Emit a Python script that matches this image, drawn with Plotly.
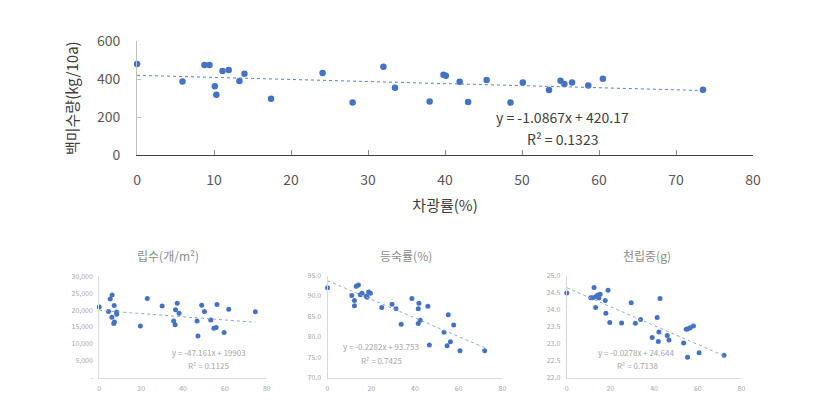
import plotly.graph_objects as go

# ---------------- data ----------------
# main chart: shading rate (%) vs milled rice yield (kg/10a)
shade_main = [0, 5.9, 8.75, 9.4, 10.1, 10.3, 11.1, 11.9, 13.3, 13.95, 17.4, 24.1, 28.0, 32.0, 33.5,
              38.0, 39.8, 40.1, 41.9, 43.0, 45.4, 48.5, 50.1, 53.5, 55.0, 55.5, 56.5, 58.6, 60.5, 73.5]
yield_main = [480, 388, 475, 475, 363, 318, 443, 448, 390, 428, 297, 432, 277, 465, 355,
              282, 423, 418, 387, 280, 395, 277, 382, 343, 392, 375, 382, 367, 402, 345]
main_slope, main_icpt = -1.0867, 420.17
main_eq = "y = -1.0867x + 420.17"
main_r2 = "R² = 0.1323"

# sub 1: grains per m2
shade_s1 = [0, 4.4, 5.2, 6.1, 7.1, 6.0, 8.3, 8.3, 6.9, 7.2, 19.6, 22.9, 30.0, 35.5, 36.2, 36.4, 37.2,
            38.1, 46.7, 47.1, 48.9, 50.2, 53.2, 54.7, 55.8, 56.2, 59.6, 61.8, 74.5]
grains_s1 = [20900, 19590, 23240, 24460, 21370, 17900, 19400, 18740, 16030, 16500, 15280, 23430, 21180,
             16780, 15650, 20060, 22030, 19030, 16780, 12370, 21460, 19590, 17060, 14620, 14810, 21650,
             13400, 20240, 19490]
s1_slope, s1_icpt = -47.161, 19903
s1_eq = "y = -47.161x + 19903"
s1_r2 = "R² = 0.1125"

# sub 2: ripening ratio (%)
shade_s2 = [0, 11.1, 12.3, 12.3, 13.1, 14.1, 15.0, 15.8, 17.7, 18.1, 18.8, 19.6, 24.8, 29.5, 31.3, 33.7,
            38.6, 41.8, 41.5, 42.4, 41.5, 45.9, 46.6, 55.2, 53.3, 56.2, 54.7, 57.7, 60.6, 71.9]
ripen_s2 = [92.0, 90.1, 88.9, 87.6, 92.4, 92.7, 90.3, 90.65, 89.95, 89.7, 91.0, 90.7, 87.2, 88.0, 86.9, 83.1,
            89.4, 88.2, 86.9, 84.05, 83.3, 87.5, 78.0, 85.4, 81.1, 78.8, 77.8, 82.9, 76.6, 76.6]
s2_slope, s2_icpt = -0.2282, 93.753
s2_eq = "y = -0.2282x + 93.753"
s2_r2 = "R² = 0.7425"

# sub 3: 1000-grain weight (g)
shade_s3 = [0, 11.0, 11.9, 12.5, 13.2, 13.2, 14.1, 14.7, 15.3, 17.6, 17.9, 18.9, 19.7, 25.1, 29.5, 31.4,
            33.8, 39.1, 41.4, 42.7, 41.9, 42.2, 46.0, 46.8, 53.5, 54.7, 55.6, 56.5, 58.0, 55.3, 60.6, 72.0]
tgw_s3 = [24.49, 24.35, 24.35, 24.65, 24.38, 24.06, 24.42, 24.34, 24.45, 24.27, 23.89, 24.57, 23.62, 23.61,
          24.20, 23.60, 23.71, 23.18, 23.77, 24.33, 23.06, 23.34, 23.24, 23.11, 23.02, 23.42, 23.44, 23.47,
          23.52, 22.60, 22.73, 22.66]
s3_slope, s3_icpt = -0.0278, 24.644
s3_eq = "y = -0.0278x + 24.644"
s3_r2 = "R² = 0.7138"

# tick labels
main_yticks = [0, 200, 400, 600]
main_xticks = [0, 10, 20, 30, 40, 50, 60, 70, 80]
sub_xticks = [0, 20, 40, 60, 80]
s1_yticks = [0, 5000, 10000, 15000, 20000, 25000, 30000]
s1_ytext = ["-", "5,000", "10,000", "15,000", "20,000", "25,000", "30,000"]
s2_yticks = [70, 75, 80, 85, 90, 95]
s3_yticks = [22.0, 22.5, 23.0, 23.5, 24.0, 24.5, 25.0]

titles = ["립수(개/m²)", "등숙률(%)", "천립중(g)"]
main_xtitle = "차광률(%)"
main_ytitle = "백미수량(kg/10a)"

# ---------------- figure ----------------
W, H = 831, 406
BLUE = "#4472C4"
FONT = "Noto Sans CJK KR"

def px(x):
    return x / W

def py(y):
    return 1 - y / H

fig = go.Figure()

def add_panel(xs, ys, slope, icpt, xa, ya, msize, lcolor):
    fig.add_trace(go.Scatter(x=xs, y=ys, mode="markers", xaxis=xa, yaxis=ya,
                             marker=dict(color=BLUE, size=msize), cliponaxis=False,
                             showlegend=False, hoverinfo="x+y"))
    xmax = max(xs)
    fig.add_trace(go.Scatter(x=[0, xmax], y=[icpt, icpt + slope * xmax], mode="lines",
                             xaxis=xa, yaxis=ya, line=dict(color=lcolor, width=1, dash="dot"),
                             showlegend=False, hoverinfo="skip"))

add_panel(shade_main, yield_main, main_slope, main_icpt, "x", "y", 6.5, "#5b7fc0")
add_panel(shade_s1, grains_s1, s1_slope, s1_icpt, "x2", "y2", 5, "#8ea6d6")
add_panel(shade_s2, ripen_s2, s2_slope, s2_icpt, "x3", "y3", 5, "#8ea6d6")
add_panel(shade_s3, tgw_s3, s3_slope, s3_icpt, "x4", "y4", 5, "#8ea6d6")

MAIN_TICK = dict(family=FONT, size=14, color="#595959")
SUB_TICK = dict(family=FONT, size=7, color="#a6a6a6")

layout = dict(
    width=W, height=H, margin=dict(l=0, r=0, t=0, b=0),
    paper_bgcolor="white", plot_bgcolor="white", showlegend=False,
    font=dict(family=FONT),
    xaxis=dict(domain=[px(135), px(760)], range=[0, 80], tickvals=main_xticks,
               showgrid=False, zeroline=False, showline=True, linecolor="#404040", linewidth=1,
               ticks="inside", ticklen=5, tickcolor="#8c8c8c", tickfont=MAIN_TICK,
               ticklabelstandoff=12, anchor="y",
               title=dict(text=main_xtitle, font=dict(family=FONT, size=15, color="#404040"),
                          standoff=12)),
    yaxis=dict(domain=[py(151.7), py(31.7)], range=[0, 600], tickvals=main_yticks,
               showgrid=False, zeroline=False, showline=True, linecolor="#bfbfbf", linewidth=1,
               ticks="inside", ticklen=4, tickcolor="#bfbfbf", tickfont=MAIN_TICK,
               ticklabelstandoff=13, anchor="x",
               title=dict(text=main_ytitle, font=dict(family=FONT, size=15, color="#404040"),
                          standoff=14)),
)

sub_specs = [
    ("x2", "y2", 96.7, 266.7, 385.7, 279.0, [0, 30000], s1_yticks, s1_ytext),
    ("x3", "y3", 328.3, 505.7, 385.7, 278.3, [70, 95], s2_yticks, [f"{v:.1f}" for v in s2_yticks]),
    ("x4", "y4", 571.0, 748.3, 385.7, 278.3, [22, 25], s3_yticks, [f"{v:.1f}" for v in s3_yticks]),
]
for xa, ya, x0, x1, yb, yt, yr, ytv, ytt in sub_specs:
    xn = "xaxis" + xa[1:]
    yn = "yaxis" + ya[1:]
    layout[xn] = dict(domain=[px(x0), px(x1)], range=[0, 80], tickvals=sub_xticks,
                      showgrid=False, zeroline=False, showline=True, linecolor="#d9d9d9",
                      linewidth=1, ticks="", tickfont=SUB_TICK, ticklabelstandoff=4, anchor=ya)
    layout[yn] = dict(domain=[py(yb), py(yt)], range=yr, tickvals=ytv, ticktext=ytt,
                      showgrid=False, zeroline=False, showline=True, linecolor="#d9d9d9",
                      linewidth=1, ticks="", tickfont=SUB_TICK, ticklabelstandoff=4, anchor=xa)

fig.update_layout(**layout)

ann = []
def add_text(text, x, y, size, color):
    ann.append(dict(text=text, x=px(x), y=py(y), xref="paper", yref="paper",
                    showarrow=False, xanchor="center", yanchor="middle",
                    font=dict(family=FONT, size=size, color=color)))

add_text(main_eq, 567, 112, 14, "#404040")
add_text(main_r2, 567, 135, 14, "#404040")

add_text(titles[0], 166.7, 257, 12, "#8c8c8c")
add_text(titles[1], 408, 257, 12, "#8c8c8c")
add_text(titles[2], 652, 257, 12, "#8c8c8c")

add_text(s1_eq, 208, 359.3, 8, "#a6a6a6")
add_text(s1_r2, 207.5, 372.7, 8, "#a6a6a6")
add_text(s2_eq, 382.5, 353.3, 8, "#a6a6a6")
add_text(s2_r2, 383, 367.3, 8, "#a6a6a6")
add_text(s3_eq, 641, 359.3, 8, "#a6a6a6")
add_text(s3_r2, 642.7, 372.7, 8, "#a6a6a6")

fig.update_layout(annotations=ann)

fig.write_html("out.html")
